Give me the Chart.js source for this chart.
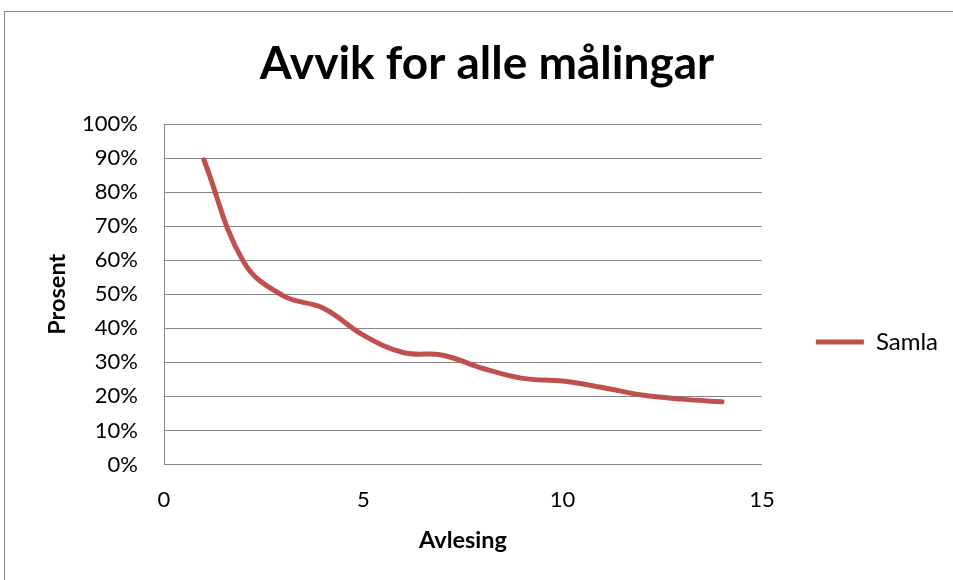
<!DOCTYPE html>
<html>
<head>
<meta charset="utf-8">
<title>Avvik for alle målingar</title>
<script src="https://cdn.jsdelivr.net/npm/chart.js@4/dist/chart.umd.min.js"></script>
<style>
  html, body { margin: 0; padding: 0; background: #ffffff; overflow: hidden; }
  #frame {
    position: absolute;
    left: 4px;
    top: 11px;
    width: 985px;
    height: 660px;
    border: 1px solid #868686;
    background: #ffffff;
  }
  canvas { display: block; }
</style>
</head>
<body>
<div id="frame"><canvas id="chart" width="985" height="660"></canvas></div>
<script>
// Avlesing (reading number) on the x axis
const readings = [1, 2, 3, 4, 5, 6, 7, 8, 9, 10, 11, 12, 13, 14];
// Deviation in percent for each reading, series "Samla"
const samla = [89.5, 59.5, 49.5, 45.9, 38.0, 32.9, 32.1, 28.2, 25.3, 24.5, 22.6, 20.4, 19.2, 18.4];
// Axis ticks
const yTicks = [0, 10, 20, 30, 40, 50, 60, 70, 80, 90, 100];
const xTicks = [0, 5, 10, 15];

const FONT = 'Lato, "Noto Sans", sans-serif';
const GRID = '#868686';
const LINE = '#C0504D';

const points = readings.map((x, i) => ({ x: x, y: samla[i] }));

// Put the legend half way down the whole chart, not just the plot area.
const legendMiddle = {
  id: 'legendMiddle',
  afterLayout(chart) {
    const lg = chart.legend;
    if (!lg) return;
    lg.top = 0;
    lg.bottom = chart.height;
  }
};

new Chart(document.getElementById('chart'), {
  type: 'scatter',
  data: {
    datasets: [{
      label: 'Samla',
      data: points,
      showLine: true,
      borderColor: LINE,
      backgroundColor: LINE,
      borderWidth: 5,
      borderCapStyle: 'round',
      borderJoinStyle: 'round',
      tension: 0.4,
      pointRadius: 0,
      pointHoverRadius: 0,
      pointStyle: 'line'
    }]
  },
  options: {
    responsive: false,
    animation: false,
    devicePixelRatio: 1,
    layout: { padding: { left: 21, top: 0, right: 42, bottom: 107.5 } },
    plugins: {
      tooltip: { enabled: false },
      title: {
        display: true,
        text: 'Avvik for alle målingar',
        color: '#000000',
        font: { family: FONT, size: 46, weight: 'bold' },
        padding: { top: 24.5, bottom: 32.3 }
      },
      legend: {
        position: 'right',
        align: 'center',
        labels: {
          usePointStyle: true,
          pointStyleWidth: 48,
          padding: 54,
          color: '#000000',
          font: { family: FONT, size: 24 }
        }
      }
    },
    scales: {
      x: {
        type: 'linear',
        min: 0,
        max: 15,
        afterBuildTicks(scale) { scale.ticks = xTicks.map(v => ({ value: v })); },
        afterFit(scale) { scale.height = 100; },
        grid: { display: false, drawTicks: false },
        border: { display: true, color: GRID, width: 1 },
        ticks: {
          color: '#000000',
          padding: 22,
          font: { family: FONT, size: 22 }
        },
        title: {
          display: true,
          text: 'Avlesing',
          color: '#000000',
          font: { family: FONT, size: 23.5, weight: 'bold' },
          padding: { top: 0, bottom: 10.4 }
        }
      },
      y: {
        type: 'linear',
        min: 0,
        max: 100,
        afterBuildTicks(scale) { scale.ticks = yTicks.map(v => ({ value: v })); },
        afterFit(scale) { scale.width = 138; },
        grid: { display: true, color: GRID, lineWidth: 1, drawTicks: false },
        border: { display: true, color: GRID, width: 1 },
        ticks: {
          color: '#000000',
          padding: 26,
          font: { family: FONT, size: 22 },
          callback: v => v + '%'
        },
        title: {
          display: true,
          text: 'Prosent',
          color: '#000000',
          font: { family: FONT, size: 23.5, weight: 'bold' },
          padding: { top: 16.9, bottom: 0 }
        }
      }
    }
  },
  plugins: [legendMiddle]
});
</script>
</body>
</html>
